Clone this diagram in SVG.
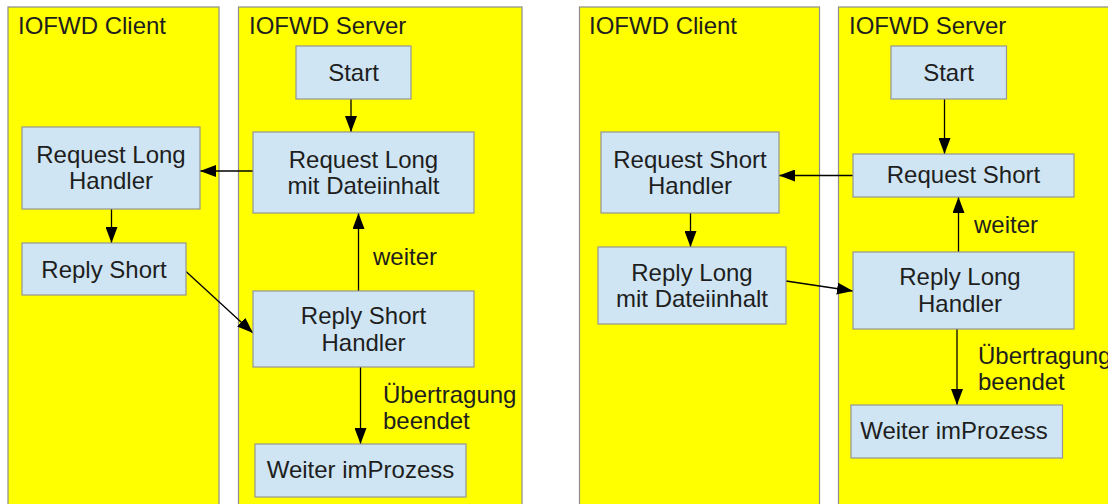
<svg xmlns="http://www.w3.org/2000/svg" width="1108" height="504" viewBox="0 0 1108 504">
  <style>
    .lane { fill: #ffff00; stroke: #8c8c8c; stroke-width: 1.2; }
    .box { fill: #cfe5f3; stroke: #959595; stroke-width: 1.2; }
    text { font-family: "Liberation Sans", Arial, sans-serif; font-size: 24px; fill: #1e1e1e; }
    .c { text-anchor: middle; }
    .edge { stroke: #000000; stroke-width: 1.3; fill: none; marker-end: url(#arrow); }
  </style>
  <defs>
    <marker id="arrow" markerUnits="userSpaceOnUse" markerWidth="16" markerHeight="12" refX="16" refY="6" orient="auto">
      <path d="M0,0 L16,6 L0,12 Z" fill="#000000"/>
    </marker>
  </defs>

  <rect width="1108" height="504" fill="#ffffff"/>

  <!-- swimlanes -->
  <g id="lanes">
    <g id="lane-client-1">
      <rect class="lane" x="8" y="7" width="211" height="510"/>
      <text x="18" y="34">IOFWD Client</text>
    </g>
    <g id="lane-server-1">
      <rect class="lane" x="238.5" y="7" width="283.5" height="510"/>
      <text x="249" y="34">IOFWD Server</text>
    </g>
    <g id="lane-client-2">
      <rect class="lane" x="579.5" y="7" width="240" height="510"/>
      <text x="589" y="34">IOFWD Client</text>
    </g>
    <g id="lane-server-2">
      <rect class="lane" x="838.5" y="7" width="290" height="510"/>
      <text x="849" y="34">IOFWD Server</text>
    </g>
  </g>

  <!-- connectors -->
  <g id="connectors">
    <line class="edge" x1="351" y1="99" x2="351" y2="132"/>
    <line class="edge" x1="253" y1="171" x2="200" y2="171"/>
    <line class="edge" x1="111.5" y1="209" x2="111.5" y2="243"/>
    <line class="edge" x1="186" y1="271.5" x2="253" y2="333"/>
    <line class="edge" x1="358.5" y1="291" x2="358.5" y2="213"/>
    <line class="edge" x1="360.5" y1="367" x2="360.5" y2="444"/>
    <text x="373" y="265">weiter</text>
    <text x="383" y="403">Übertragung</text>
    <text x="383" y="429">beendet</text>

    <line class="edge" x1="944.5" y1="99" x2="944.5" y2="154"/>
    <line class="edge" x1="853" y1="175.5" x2="779" y2="175.5"/>
    <line class="edge" x1="690.5" y1="213" x2="690.5" y2="247"/>
    <line class="edge" x1="786" y1="281" x2="853" y2="291"/>
    <line class="edge" x1="958.5" y1="252" x2="958.5" y2="197"/>
    <line class="edge" x1="957" y1="329" x2="957" y2="405"/>
    <text x="974" y="233">weiter</text>
    <text x="978" y="364">Übertragung</text>
    <text x="978" y="390">beendet</text>
  </g>

  <!-- nodes, first exchange -->
  <g id="start-1">
    <rect class="box" x="296" y="46" width="115" height="53"/>
    <text class="c" x="353.5" y="81">Start</text>
  </g>
  <g id="request-long">
    <rect class="box" x="253" y="132" width="221" height="81"/>
    <text class="c" x="363.5" y="168">Request Long</text>
    <text class="c" x="363.5" y="194">mit Dateiinhalt</text>
  </g>
  <g id="request-long-handler">
    <rect class="box" x="22" y="127" width="178" height="82"/>
    <text class="c" x="111" y="163">Request Long</text>
    <text class="c" x="111" y="189">Handler</text>
  </g>
  <g id="reply-short">
    <rect class="box" x="22" y="243" width="164" height="52"/>
    <text class="c" x="104" y="277.5">Reply Short</text>
  </g>
  <g id="reply-short-handler">
    <rect class="box" x="253" y="291" width="221" height="76"/>
    <text class="c" x="363.5" y="324">Reply Short</text>
    <text class="c" x="363.5" y="350.5">Handler</text>
  </g>
  <g id="continue-1">
    <rect class="box" x="255" y="444" width="211" height="53"/>
    <text class="c" x="360.5" y="478">Weiter imProzess</text>
  </g>

  <!-- nodes, second exchange -->
  <g id="start-2">
    <rect class="box" x="891" y="46" width="115.5" height="53"/>
    <text class="c" x="948.5" y="81">Start</text>
  </g>
  <g id="request-short">
    <rect class="box" x="853" y="154" width="221" height="43"/>
    <text class="c" x="963.5" y="183">Request Short</text>
  </g>
  <g id="request-short-handler">
    <rect class="box" x="601" y="132" width="178" height="81"/>
    <text class="c" x="690" y="168">Request Short</text>
    <text class="c" x="690" y="194">Handler</text>
  </g>
  <g id="reply-long">
    <rect class="box" x="598" y="247" width="188" height="77"/>
    <text class="c" x="692" y="280.5">Reply Long</text>
    <text class="c" x="692" y="306.5">mit Dateiinhalt</text>
  </g>
  <g id="reply-long-handler">
    <rect class="box" x="853" y="252" width="221" height="77"/>
    <text class="c" x="960" y="285">Reply Long</text>
    <text class="c" x="960" y="311.5">Handler</text>
  </g>
  <g id="continue-2">
    <rect class="box" x="851" y="405" width="211.5" height="53"/>
    <text class="c" x="954" y="439">Weiter imProzess</text>
  </g>
</svg>
